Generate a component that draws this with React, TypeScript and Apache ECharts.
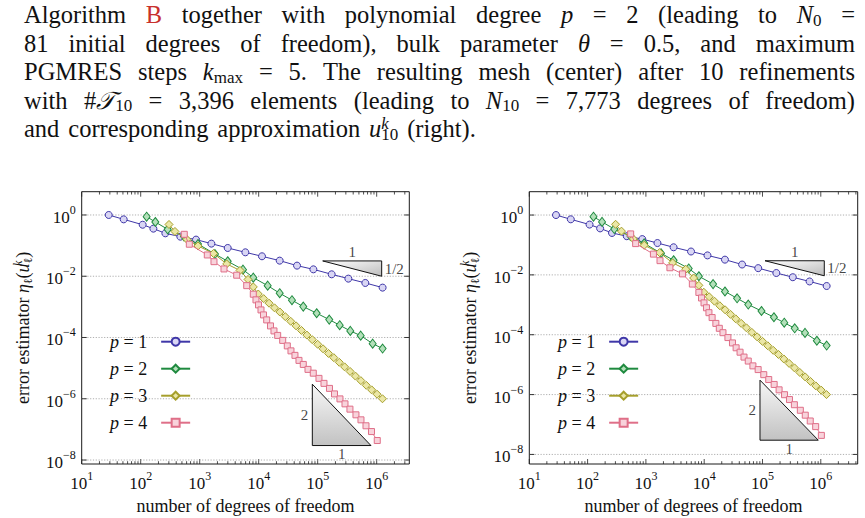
import React, { useEffect, useRef } from "react";
import * as echarts from "echarts";

const SERIF = "Liberation Serif, DejaVu Serif, serif";

// ---------- data ----------
const seriesNames = ["p = 1", "p = 2", "p = 3", "p = 4"];

const dofP1 = [28.7, 51.5, 108, 164, 262, 470, 867, 1578, 2985, 5943, 11380, 22690, 44660, 84500, 172700, 331000, 642000, 1260000];
const etaP1 = [1.0, 0.72, 0.48, 0.358, 0.252, 0.196, 0.157, 0.116, 0.0837, 0.0604, 0.0448, 0.0323, 0.0222, 0.0168, 0.01156, 0.00835, 0.00603, 0.00425];

const dofP2 = [126, 177, 287, 542, 935, 1815, 2985, 5420, 8100, 14200, 22700, 36650, 57000, 96100, 157000, 236000, 357000, 536000, 855000, 1260000];
const etaP2 = [0.88, 0.59, 0.34, 0.199, 0.113, 0.053, 0.0308, 0.0164, 0.009, 0.00493, 0.00279, 0.00165, 0.00102, 6.2e-4, 3.84e-4, 2.52e-4, 1.64e-4, 1.15e-4, 6.3e-5, 4.35e-5];

const dofP3 = [302, 381, 609, 935, 1714, 2870, 4820, 6590, 8100, 9840, 12160, 15000, 18540, 22860, 28250, 34830, 43050, 53090, 65610, 80910, 100000, 123300, 152400, 187900, 232300, 286400, 354000, 436500, 539500, 665300, 822200, 1014000, 1253000];
const etaP3 = [0.49, 0.29, 0.159, 0.0975, 0.0555, 0.0252, 0.01545, 0.00787, 0.00448, 2.63e-3, 1.86e-3, 1.32e-3, 9.3e-4, 6.8e-4, 4.8e-4, 3.39e-4, 2.4e-4, 1.7e-4, 1.2e-4, 8.5e-5, 6.0e-5, 4.27e-5, 3.02e-5, 2.19e-5, 1.55e-5, 1.1e-5, 7.8e-6, 5.5e-6, 3.9e-6, 2.75e-6, 1.95e-6, 1.41e-6, 1.0e-6];

const dofP4 = [548, 667, 1346, 1746, 2582, 4240, 6265, 8100, 8995, 9930, 10940, 12060, 13670, 15850, 18160, 20990, 25520, 30550, 35270, 41210, 48190, 57000, 68500, 84200, 105200, 127900, 158500, 192700, 238800, 290300, 352400, 445600, 541800, 659000, 817000, 1023000];
const etaP4 = [0.234, 0.111, 0.0495, 0.0299, 0.0173, 0.0108, 0.00493, 0.00259, 1.69e-3, 1.16e-3, 7.95e-4, 5.46e-4, 3.75e-4, 2.39e-4, 1.64e-4, 1.17e-4, 8.04e-5, 5.32e-5, 3.66e-5, 2.61e-5, 1.79e-5, 1.32e-5, 9.1e-6, 6.84e-6, 4.63e-6, 3.18e-6, 2.18e-6, 1.44e-6, 9.9e-7, 6.82e-7, 4.58e-7, 2.99e-7, 2.05e-7, 1.31e-7, 8.5e-8, 4.33e-8];

// slope triangles: [xA, yA, xB, yB, xC, yC, kind]
const slopeTriLeft = [
  [121600, 0.0316, 1216000, 0.0316, 1216000, 0.01, 0],
  [81100, 2.99e-6, 81100, 2.97e-8, 800000, 2.97e-8, 1],
];
const slopeTriRight = [
  [110400, 0.02965, 1148000, 0.02965, 1148000, 0.00933, 0],
  [90600, 3.03e-6, 90600, 2.99e-8, 905700, 2.99e-8, 1],
];

const xMajorTicks = [1e1, 1e2, 1e3, 1e4, 1e5, 1e6];
const tickDecades = [1e1, 1e2, 1e3, 1e4, 1e5, 1e6];
const tickMantissas = [2, 3, 4, 5, 6, 7, 8, 9];
const yMajorTicks = [1e-8, 1e-6, 1e-4, 1e-2, 1];

const paraLines = [
  "Algorithm {r|B} together with polynomial degree {i|p} = 2 (leading to {i|N}{sub|0} =",
  "81 initial degrees of freedom), bulk parameter {i|θ} = 0.5, and maximum",
  "PGMRES steps {i|k}{sub|max} = 5. The resulting mesh (center) after 10 refinements",
  "with #{cal|𝒯}{sub|10} = 3,396 elements (leading to {i|N}{sub|10} = 7,773 degrees of freedom)",
  "and corresponding approximation {i|u}{supz|k}{sub|10} (right).",
];

// ---------- styling ----------
const lineColors = ["#3f37a8", "#1f8a3f", "#a69f2c", "#df6f88"];
const fillColors = ["#d9d6f4", "#b4e0ba", "#ebe7a6", "#f8d3db"];
const symbols = ["circle", "diamond", "diamond", "rect"];
const symbolSizes: any[] = [7, [7, 9], [8, 8], 6];

const plots = [
  { left: 81.7, top: 191.7, width: 327.6, height: 272.3, xMaxExp: 6.553, yMinExp: -8.13, yMaxExp: 0.76, tri: slopeTriLeft, legendLeft: 105 },
  { left: 529.3, top: 191.7, width: 328.4, height: 272.3, xMaxExp: 6.633, yMinExp: -8.32, yMaxExp: 0.78, tri: slopeTriRight, legendLeft: 553 },
];

const PARA_LEFT = 24;
const PARA_RIGHT = 855;
const PARA_SIZE = 24.5;
const SUB_SIZE = 17;
const SCRIPT_LH = 13;
const PARA_LH = 28;
const paraCenters = [14.5, 43, 71.5, 100, 128.5];

const segFonts: Record<string, string> = {
  n: `${PARA_SIZE}px ${SERIF}`,
  r: `${PARA_SIZE}px ${SERIF}`,
  i: `italic ${PARA_SIZE}px ${SERIF}`,
  cal: `italic ${PARA_SIZE}px ${SERIF}`,
  sub: `${SUB_SIZE}px ${SERIF}`,
};

function parseWord(w: string) {
  const re = /\{(\w+)\|([^}]*)\}|([^{]+)/g;
  const segs: { k: string; t: string }[] = [];
  let m: RegExpExecArray | null;
  while ((m = re.exec(w))) {
    if (m[1]) segs.push({ k: m[1], t: m[2] });
    else segs.push({ k: "n", t: m[3] });
  }
  return segs;
}

const paraRich = {
  i: { fontStyle: "italic", fontSize: PARA_SIZE, lineHeight: PARA_LH, fontFamily: SERIF, color: "#111" },
  cal: { fontStyle: "italic", fontSize: PARA_SIZE, lineHeight: PARA_LH, fontFamily: SERIF, color: "#111" },
  r: { fontSize: PARA_SIZE, lineHeight: PARA_LH, fontFamily: SERIF, color: "#c8302c" },
  sub: { fontSize: SUB_SIZE, lineHeight: SCRIPT_LH, verticalAlign: "bottom", fontFamily: SERIF, color: "#111" },
  supz: { fontSize: SUB_SIZE, lineHeight: SCRIPT_LH, verticalAlign: "top", fontStyle: "italic", width: 0, fontFamily: SERIF, color: "#111" },
};

// paragraph words as title components (justified like the typeset text)
function buildParagraph(): any[] {
  const canvas = document.createElement("canvas");
  const ctx = canvas.getContext("2d") as CanvasRenderingContext2D;
  const measure = (k: string, t: string) => {
    if (k === "supz") return 0;
    ctx.font = segFonts[k] || segFonts.n;
    return ctx.measureText(t).width;
  };
  ctx.font = segFonts.n;
  const spaceW = ctx.measureText(" ").width * 1.45;
  const titles: any[] = [];
  paraLines.forEach((line, li) => {
    const words = line.split(" ");
    const widths = words.map((w) => parseWord(w).reduce((s, g) => s + measure(g.k, g.t), 0));
    const total = widths.reduce((a, b) => a + b, 0);
    const justify = li < paraLines.length - 1;
    const gap = justify ? (PARA_RIGHT - PARA_LEFT - total) / (words.length - 1) : spaceW;
    let x = PARA_LEFT;
    words.forEach((w, k) => {
      titles.push({
        text: w,
        left: x,
        top: paraCenters[li] - PARA_LH / 2,
        padding: 0,
        itemGap: 0,
        textStyle: {
          fontFamily: SERIF,
          fontSize: PARA_SIZE,
          fontWeight: "normal",
          lineHeight: PARA_LH,
          color: "#111",
          rich: paraRich,
        },
      });
      x += widths[k] + gap;
    });
  });
  return titles;
}

const labelRich = {
  b: { fontSize: 17, lineHeight: 22, verticalAlign: "bottom", fontFamily: SERIF, color: "#111" },
  s: { fontSize: 12, lineHeight: 12, verticalAlign: "top", fontFamily: SERIF, color: "#111" },
};

function powLabel(v: number, evenOnly: boolean) {
  const e = Math.log10(v);
  const r = Math.round(e);
  if (Math.abs(e - r) > 1e-6) return "";
  if (evenOnly && r % 2 !== 0) return "";
  const s = r < 0 ? "−" + -r : String(r);
  return `{b|10}{s|${s}}`;
}

function frameData(xMax: number) {
  const d: number[][] = [];
  xMajorTicks.forEach((v) => d.push([v, 1, 0]));
  tickDecades.forEach((dec) =>
    tickMantissas.forEach((m) => {
      const v = dec * m;
      if (v < xMax) d.push([v, 1, 1]);
    })
  );
  yMajorTicks.forEach((v) => d.push([100, v, 2]));
  return d;
}

// label anchors at the mid-points (in log space) of the triangle legs
function triLabelData(tri: number[][]) {
  const out: any[] = [];
  const gm = (a: number, b: number) => Math.sqrt(a * b);
  tri.forEach((t) => {
    const [xa, ya, xb, yb, xc, yc, kind] = t;
    if (kind === 0) {
      out.push({ value: [gm(xa, xb), ya], label: { position: "top", distance: 1, formatter: "1" } });
      out.push({ value: [xb, gm(yb, yc)], label: { position: "right", distance: 3, formatter: "1/2" } });
    } else {
      out.push({ value: [xa, gm(ya, yb)], label: { position: "left", distance: 4, formatter: "2" } });
      out.push({ value: [gm(xb, xc), yb], label: { position: "bottom", distance: 1, formatter: "1" } });
    }
  });
  return out;
}

export default function App() {
  const ref = useRef<HTMLDivElement>(null);
  useEffect(() => {
    if (!ref.current) return;
    const chart = echarts.init(ref.current, undefined, { renderer: "svg" });
    const dofs = [dofP1, dofP2, dofP3, dofP4];
    const etas = [etaP1, etaP2, etaP3, etaP4];

    const series: any[] = [];
    plots.forEach((p, gi) => {
      series.push({
        type: "custom",
        xAxisIndex: gi,
        yAxisIndex: gi,
        silent: true,
        clip: false,
        z: 1,
        encode: { x: 0, y: 1 },
        data: frameData(Math.pow(10, p.xMaxExp)),
        renderItem: (params: any, api: any) => {
          const cs = params.coordSys;
          const kind = api.value(2);
          if (kind === 2) {
            const py = api.coord([api.value(0), api.value(1)])[1];
            return {
              type: "group",
              children: [
                { type: "line", shape: { x1: cs.x, y1: py, x2: cs.x + cs.width, y2: py }, style: { stroke: "#9a9a9a", lineWidth: 0.8, lineDash: [1.2, 1.6] } },
                { type: "line", shape: { x1: cs.x, y1: py, x2: cs.x + 5, y2: py }, style: { stroke: "#222", lineWidth: 0.9 } },
                { type: "line", shape: { x1: cs.x + cs.width - 5, y1: py, x2: cs.x + cs.width, y2: py }, style: { stroke: "#222", lineWidth: 0.9 } },
              ],
            };
          }
          const px = api.coord([api.value(0), api.value(1)])[0];
          const len = kind === 0 ? 5 : 2.8;
          const b = cs.y + cs.height;
          return {
            type: "group",
            children: [
              { type: "line", shape: { x1: px, y1: b, x2: px, y2: b - len }, style: { stroke: "#222", lineWidth: 0.8 } },
              { type: "line", shape: { x1: px, y1: cs.y, x2: px, y2: cs.y + len }, style: { stroke: "#222", lineWidth: 0.8 } },
            ],
          };
        },
      });
      series.push({
        type: "custom",
        xAxisIndex: gi,
        yAxisIndex: gi,
        silent: true,
        clip: false,
        z: 3,
        encode: { x: [0, 2, 4], y: [1, 3, 5] },
        data: p.tri,
        renderItem: (params: any, api: any) => {
          const a = api.coord([api.value(0), api.value(1)]);
          const b = api.coord([api.value(2), api.value(3)]);
          const c = api.coord([api.value(4), api.value(5)]);
          const kind = api.value(6);
          const fill =
            kind === 0
              ? new echarts.graphic.LinearGradient(0, 0, 1, 1, [
                  { offset: 0, color: "#ffffff" },
                  { offset: 1, color: "#bcbcbc" },
                ])
              : new echarts.graphic.LinearGradient(0, 0, 0, 1, [
                  { offset: 0, color: "#f7f7f7" },
                  { offset: 1, color: "#c2c2c2" },
                ]);
          return { type: "polygon", shape: { points: [a, b, c] }, style: { fill, stroke: "#111", lineWidth: 1 } };
        },
      });
      series.push({
        type: "scatter",
        xAxisIndex: gi,
        yAxisIndex: gi,
        silent: true,
        z: 3,
        symbolSize: 0,
        data: triLabelData(p.tri),
        label: { show: true, fontFamily: SERIF, fontSize: 15, color: "#111" },
        emphasis: { disabled: true },
      });
      seriesNames.forEach((name, si) => {
        series.push({
          type: "line",
          name,
          xAxisIndex: gi,
          yAxisIndex: gi,
          z: 4 + si,
          data: dofs[si].map((n, k) => [n, etas[si][k]]),
          symbol: symbols[si],
          symbolSize: symbolSizes[si],
          showAllSymbol: true,
          lineStyle: { color: lineColors[si], width: 1 },
          itemStyle: { color: fillColors[si], borderColor: lineColors[si], borderWidth: 1 },
          emphasis: { disabled: true },
          silent: true,
        });
      });
    });

    const option: any = {
      animation: false,
      backgroundColor: "#ffffff",
      title: buildParagraph(),
      grid: plots.map((p) => ({
        left: p.left,
        top: p.top,
        width: p.width,
        height: p.height,
        show: true,
        borderColor: "#1a1a1a",
        borderWidth: 1,
        backgroundColor: "transparent",
        containLabel: false,
        outerBoundsMode: "none",
      })),
      xAxis: plots.map((p, i) => ({
        type: "log",
        logBase: 10,
        gridIndex: i,
        min: 10,
        max: Math.pow(10, p.xMaxExp),
        axisLine: { show: false },
        axisTick: { show: false },
        minorTick: { show: false },
        splitLine: { show: false },
        axisLabel: { margin: 6, formatter: (v: number) => powLabel(v, false), rich: labelRich },
        name: "number of degrees of freedom",
        nameLocation: "middle",
        nameGap: 29,
        nameTextStyle: { fontFamily: SERIF, fontSize: 18, color: "#111" },
      })),
      yAxis: plots.map((p, i) => ({
        type: "log",
        logBase: 10,
        gridIndex: i,
        min: Math.pow(10, p.yMinExp),
        max: Math.pow(10, p.yMaxExp),
        axisLine: { show: false },
        axisTick: { show: false },
        minorTick: { show: false },
        splitLine: { show: false },
        axisLabel: { margin: 6, formatter: (v: number) => powLabel(v, true), rich: labelRich },
        name: "error estimator {i|η}{sub|ℓ}({i|u}{supz|k}{sub|ℓ})",
        nameLocation: "middle",
        nameRotate: 90,
        nameGap: 48,
        nameTextStyle: {
          fontFamily: SERIF,
          fontSize: 18,
          color: "#111",
          lineHeight: 22,
          rich: {
            i: { fontStyle: "italic", fontFamily: SERIF, fontSize: 18, lineHeight: 22, color: "#111" },
            sub: { fontFamily: SERIF, fontSize: 12, lineHeight: 10, verticalAlign: "bottom", color: "#111" },
            supz: { fontFamily: SERIF, fontSize: 12, lineHeight: 10, verticalAlign: "top", fontStyle: "italic", width: 0, color: "#111" },
          },
        },
      })),
      legend: plots.map((p) => ({
        orient: "vertical",
        left: p.legendLeft,
        top: 327.7,
        itemGap: 9,
        itemWidth: 29,
        itemHeight: 10,
        align: "right",
        selectedMode: false,
        data: seriesNames,
        formatter: (n: string) => `{i|p} = ${n.slice(-1)}`,
        textStyle: {
          fontFamily: SERIF,
          fontSize: 18,
          lineHeight: 18,
          color: "#111",
          padding: [0, 9, 0, 0],
          rich: { i: { fontStyle: "italic", fontFamily: SERIF, fontSize: 18, lineHeight: 18, color: "#111" } },
        },
      })),
      series,
    };
    chart.setOption(option);
    return () => chart.dispose();
  }, []);
  return (
    <div
      ref={ref}
      style={{ position: "absolute", left: 0, top: 0, width: 865, height: 518, background: "#fff" }}
    />
  );
}
